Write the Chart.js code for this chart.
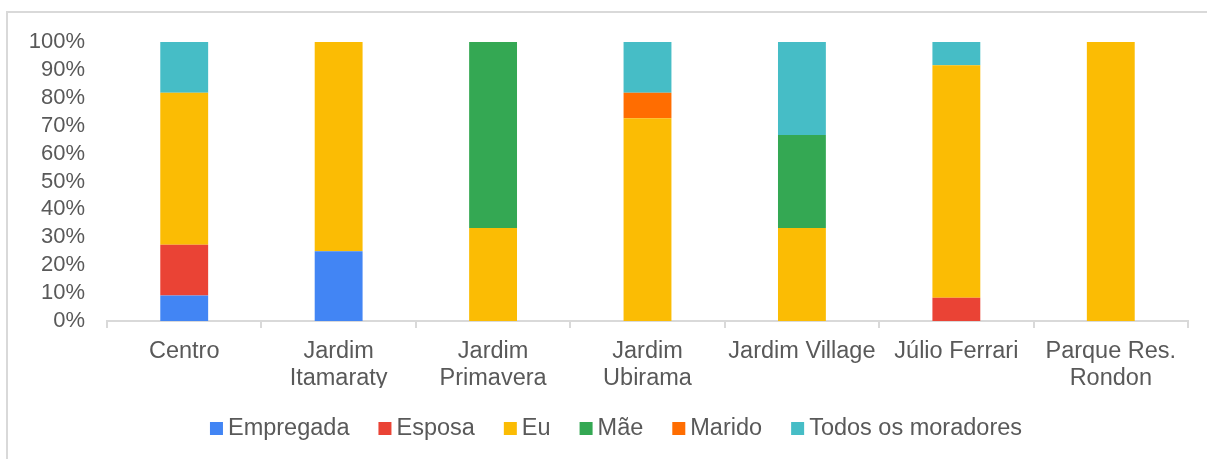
<!DOCTYPE html>
<html>
<head>
<meta charset="utf-8">
<script src="https://cdn.jsdelivr.net/npm/chart.js@4.4.4/dist/chart.umd.min.js"></script>
<style>
  html, body { margin: 0; padding: 0; background: #fff; overflow: hidden; }
  #frame {
    position: absolute; left: 6px; top: 11px; width: 1230px; height: 480px;
    border-left: 2px solid #d9d9d9; border-top: 2px solid #d9d9d9;
  }
  #wrap { position: absolute; left: 0; top: 0; width: 1207px; height: 459px; }
</style>
</head>
<body>
<div id="frame"></div>
<div id="wrap"><canvas id="chart"></canvas></div>
<script>
// Quem responde pelo domicílio, por bairro (% dos entrevistados)
const bairros = [
  "Centro",
  ["Jardim", "Itamaraty"],
  ["Jardim", "Primavera"],
  ["Jardim", "Ubirama"],
  "Jardim Village",
  "Júlio Ferrari",
  ["Parque Res.", "Rondon"]
]

const empregada = [9.1, 25, 0, 0, 0, 0, 0]
const esposa    = [18.2, 0, 0, 0, 0, 8.3, 0]
const eu        = [54.5, 75, 33.3, 72.7, 33.3, 83.4, 100]
const mae       = [0, 0, 66.7, 0, 33.4, 0, 0]
const marido    = [0, 0, 0, 9.1, 0, 0, 0]
const todos     = [18.2, 0, 0, 18.2, 33.3, 8.3, 0]

const yTicks = [0, 10, 20, 30, 40, 50, 60, 70, 80, 90, 100]

const textColor = "#595959"
const lineColor = "#d9d9d9"
const fontFamily = "'Liberation Sans', Arial, sans-serif"

const series = [
  { label: "Empregada", data: empregada, color: "#4285f4" },
  { label: "Esposa", data: esposa, color: "#ea4335" },
  { label: "Eu", data: eu, color: "#fbbc04" },
  { label: "Mãe", data: mae, color: "#34a853" },
  { label: "Marido", data: marido, color: "#ff6d01" },
  { label: "Todos os moradores", data: todos, color: "#46bdc6" }
]

// Legenda em linha única, com quadradinho colado ao texto
const legendRow = {
  id: "legendRow",
  afterDraw(chart) {
    const c = chart.ctx
    const box = 13, gap = 5, spacing = 29
    const centerX = 616, y = 429
    c.save()
    c.font = "23.5px " + fontFamily
    c.textBaseline = "middle"
    const items = chart.data.datasets.map(ds => ({
      text: ds.label, color: ds.backgroundColor, w: c.measureText(ds.label).width
    }))
    const total = items.reduce((s, it) => s + box + gap + it.w, 0) + spacing * (items.length - 1)
    let x = centerX - total / 2
    items.forEach(it => {
      c.fillStyle = it.color
      c.fillRect(x, y - 7, box, box)
      c.fillStyle = textColor
      c.fillText(it.text, x + box + gap, y)
      x += box + gap + it.w + spacing
    })
    c.restore()
  }
}

const ctx = document.getElementById("chart").getContext("2d")

new Chart(ctx, {
  type: "bar",
  data: {
    labels: bairros,
    datasets: series.map(s => ({
      label: s.label,
      data: s.data,
      backgroundColor: s.color,
      borderWidth: 0,
      barPercentage: 0.31,
      categoryPercentage: 1
    }))
  },
  options: {
    responsive: true,
    maintainAspectRatio: false,
    animation: false,
    layout: { padding: { left: 0, right: 19, top: 42, bottom: 71 } },
    plugins: {
      tooltip: { enabled: false },
      legend: { display: false }
    },
    scales: {
      x: {
        stacked: true,
        afterFit: (scale) => { scale.height = 67 },
        border: { display: true, color: lineColor, width: 2 },
        grid: {
          display: true,
          offset: true,
          drawOnChartArea: false,
          drawTicks: true,
          tickLength: 7,
          color: lineColor,
          lineWidth: 2
        },
        ticks: {
          color: textColor,
          font: { family: fontFamily, size: 23.5, lineHeight: 1.15 },
          padding: 10,
          maxRotation: 0,
          autoSkip: false
        }
      },
      y: {
        stacked: true,
        min: 0,
        max: 100,
        afterFit: (scale) => { scale.width = 107 },
        afterBuildTicks: (scale) => { scale.ticks = yTicks.map(v => ({ value: v })) },
        border: { display: false },
        grid: { display: false },
        ticks: {
          color: textColor,
          font: { family: fontFamily, size: 22 },
          padding: 14,
          autoSkip: false,
          callback: (v) => v + "%"
        }
      }
    }
  },
  plugins: [legendRow]
})
</script>
</body>
</html>
